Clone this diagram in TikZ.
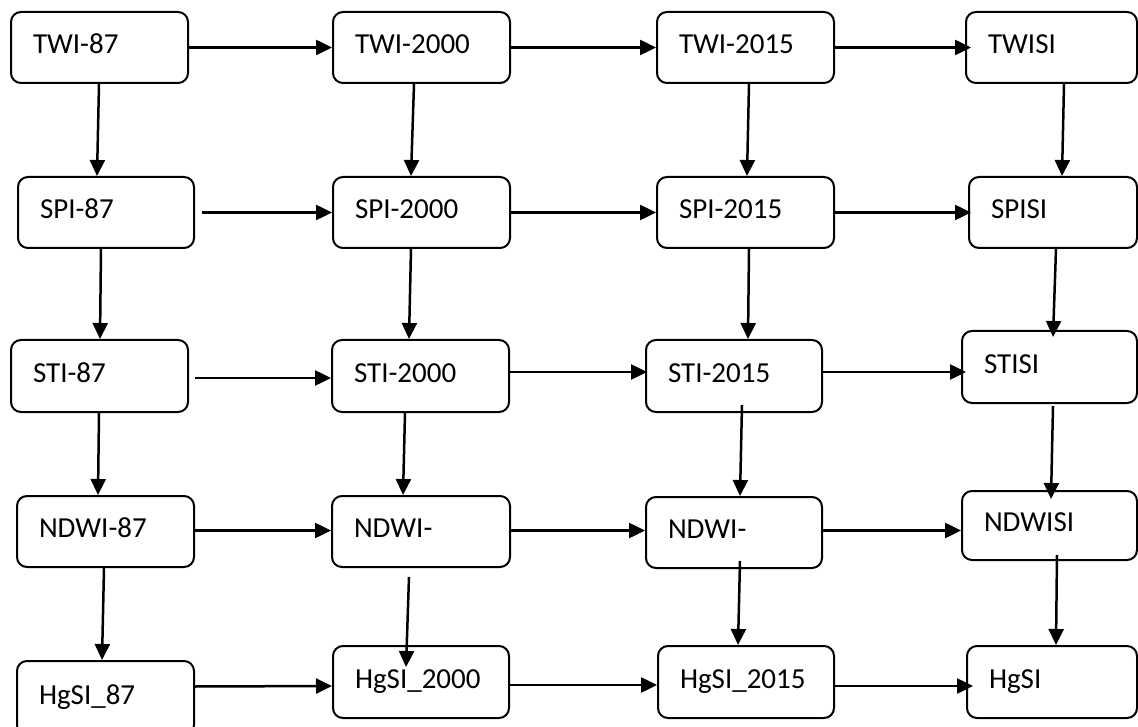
\documentclass[tikz,border=0pt]{standalone}
\usepackage{fontspec}
\setmainfont{Carlito}
\usetikzlibrary{arrows.meta,calc}
\begin{document}
\begin{tikzpicture}[x=1pt,y=-1pt,
  box/.style={draw, line width=2pt, rounded corners=10pt, anchor=north west,
    inner xsep=22pt, inner ysep=0pt, minimum height=71pt,
    text height=19pt, text depth=7pt, align=left,
    font=\fontsize{29}{34}\selectfont},
  arr/.style={line width=2.5pt, -{Triangle[length=16pt,width=15pt]}}]
\useasboundingbox (0,0) rectangle (1138,727);
% row 1
\node[box, text width=133pt] (a1) at (10,11) {TWI-87};
\node[box, text width=133pt] (a2) at (332,11) {TWI-2000};
\node[box, text width=133pt] (a3) at (656,11) {TWI-2015};
\node[box, text width=127pt] (a4) at (965,11) {TWISI};
% row 2
\node[box, text width=132pt] (b1) at (17,176) {SPI-87};
\node[box, text width=133pt] (b2) at (332,176) {SPI-2000};
\node[box, text width=133pt] (b3) at (656,176) {SPI-2015};
\node[box, text width=124pt] (b4) at (968,176) {SPISI};
% row 3
\node[box, text width=133pt, minimum height=72pt] (c1) at (10,339) {STI-87};
\node[box, text width=133pt, minimum height=72pt] (c2) at (331,339) {STI-2000};
\node[box, text width=132pt, minimum height=72pt] (c3) at (645,339) {STI-2015};
\node[box, text width=131pt, minimum height=72pt] (c4) at (961,330) {STISI};
% row 4
\node[box, text width=133pt] (d1) at (16,495) {NDWI-87};
\node[box, text width=134pt] (d2) at (331,495) {NDWI-};
\node[box, text width=132pt] (d3) at (645,496) {NDWI-};
\node[box, text width=131pt, minimum height=69pt] (d4) at (961,490) {NDWISI};
% row 5
\node[box, text width=133pt, minimum height=74pt] (e1) at (16,660) {HgSI\_87};
\node[box, text width=132pt, minimum height=72pt] (e2) at (332,645) {HgSI\_2000};
\node[box, text width=132pt, minimum height=72pt] (e3) at (657,645) {HgSI\_2015};
\node[box, text width=126pt, minimum height=72pt] (e4) at (966,645) {HgSI};
% horizontal connectors
\draw[arr] (a1.east) -- (a2.west);
\draw[arr] (a2.east) -- (a3.west);
\draw[arr] (a3.east) -- ($(a4.west)+(6,0)$);
\draw[arr] ($(b1.east)+(7,0)$) -- (b2.west);
\draw[arr] (b2.east) -- (b3.west);
\draw[arr] (b3.east) -- ($(b4.west)+(3,0)$);
\draw[arr] ($(c1.east)+(6,2)$) -- ($(c2.west)+(0,2)$);
\draw[arr] ($(c2.east)+(0,-4)$) -- ($(c3.west)+(2,-4)$);
\draw[arr] ($(c3.east)+(0,-4)$) -- ($(c4.west)+(5,5)$);
\draw[arr] ($(d1.east)+(0,-1)$) -- ($(d2.west)+(0,-1)$);
\draw[arr] ($(d2.east)+(0,-1)$) -- ($(d3.west)+(0,-2)$);
\draw[arr] ($(d3.east)+(0,-2)$) -- ($(d4.west)+(0,5)$);
\draw[arr] ($(e1.east)+(0,-11.5)$) -- ($(e2.west)+(0,4)$);
\draw[arr] ($(e2.east)+(0,3)$) -- ($(e3.west)+(0,3)$);
\draw[arr] ($(e3.east)+(0,4)$) -- ($(e4.west)+(7,4)$);
% vertical connectors, column 1
\draw[arr] ($(a1.south)+(-0.5,0)$) -- ($(b1.north)+(-9,0)$);
\draw[arr] ($(b1.south)+(-5,0)$) -- ($(c1.north)+(0.5,0)$);
\draw[arr] ($(c1.south)+(-0.5,0)$) -- ($(d1.north)+(-7.5,0)$);
\draw[arr] ($(d1.south)+(-1.5,0)$) -- ($(e1.north)+(-3.5,0)$);
% column 2
\draw[arr] ($(a2.south)+(-7.5,0)$) -- ($(b2.north)+(-10.5,0)$);
\draw[arr] ($(b2.south)+(-10.5,0)$) -- ($(c2.north)+(-11.5,0)$);
\draw[arr] ($(c2.south)+(-15.5,0)$) -- ($(d2.north)+(-18,0)$);
\draw[arr] ($(d2.south)+(-12,9)$) -- ($(e2.north)+(-15,22)$);
% column 3
\draw[arr] ($(a3.south)+(3.5,0)$) -- ($(b3.north)+(1.5,0)$);
\draw[arr] ($(b3.south)+(3.5,0)$) -- ($(c3.north)+(14,0)$);
\draw[arr] ($(c3.south)+(8,-8)$) -- ($(d3.north)+(6,0)$);
\draw[arr] ($(d3.south)+(6,-8)$) -- ($(e3.north)+(-8,0)$);
% column 4
\draw[arr] ($(a4.south)+(12.5,0)$) -- ($(b4.north)+(9,0)$);
\draw[arr] ($(b4.south)+(3,0)$) -- ($(c4.north)+(3.5,7)$);
\draw[arr] ($(c4.south)+(3.5,2)$) -- ($(d4.north)+(1.5,9)$);
\draw[arr] ($(d4.south)+(7.5,-6)$) -- ($(e4.north)+(4,0)$);
\end{tikzpicture}
\end{document}
